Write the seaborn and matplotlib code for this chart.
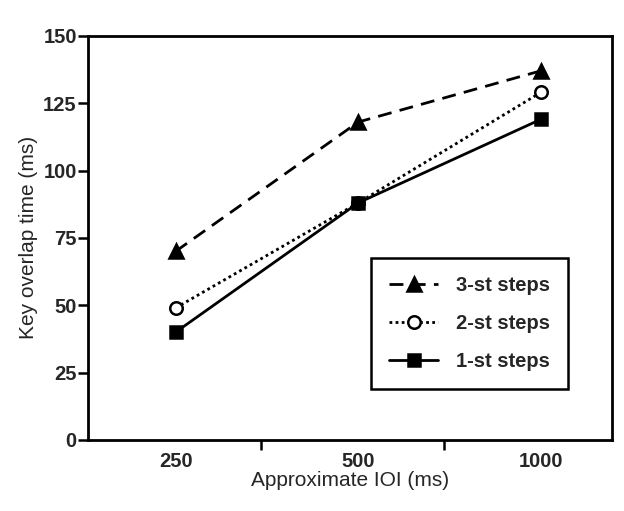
import matplotlib
matplotlib.use("Agg")
import matplotlib.pyplot as plt
import seaborn as sns
import pandas as pd

ioi = ["250", "500", "1000"]
steps3 = [70, 118, 137]
steps2 = [49, 88, 129]
steps1 = [40, 88, 119]
labels = ["3-st steps", "2-st steps", "1-st steps"]

sns.set_theme(style="ticks")
plt.rcParams['font.family'] = ['Liberation Sans', 'DejaVu Sans']

fig, ax = plt.subplots(figsize=(6.24, 5.11), dpi=100)
fig.subplots_adjust(left=0.141, right=0.981, bottom=0.139, top=0.93)

styles = [
    dict(linestyle=(0, (5, 3)), marker='^', markerfacecolor='black', markersize=10),
    dict(linestyle=(0, (1, 1.2)), marker='o', markerfacecolor='white', markersize=9),
    dict(linestyle='-', marker='s', markerfacecolor='black', markersize=9),
]
for lab, vals, st in zip(labels, [steps3, steps2, steps1], styles):
    sns.lineplot(x=ioi, y=vals, ax=ax, color='black', linewidth=2, sort=False,
                 markeredgecolor='black', markeredgewidth=1.8, label=lab, **st)

ax.set_xlim(-0.48, 2.39)
ax.set_ylim(0, 150)
ax.set_yticks([0, 25, 50, 75, 100, 125, 150])
ax.set_xticks([0.47, 1.47], minor=True)
ax.tick_params(axis='x', which='major', length=0, pad=9, labelsize=14.5)
ax.tick_params(axis='x', which='minor', length=7, width=1.8, direction='out', color='black')
ax.tick_params(axis='y', length=7, width=1.8, direction='out', color='black', labelsize=14.5, pad=1)
for t in ax.get_xticklabels() + ax.get_yticklabels():
    t.set_fontweight('bold')
for s in ax.spines.values():
    s.set_linewidth(2)
    s.set_color('black')

ax.set_xlabel("Approximate IOI (ms)", fontsize=15, labelpad=0)
ax.set_ylabel("Key overlap time (ms)", fontsize=15, labelpad=4)

leg = ax.legend(loc='lower right', bbox_to_anchor=(0.935, 0.10), fontsize=14.5,
                frameon=True, fancybox=False, edgecolor='black', borderpad=0.9,
                labelspacing=0.95, handlelength=2.4, handletextpad=0.9, framealpha=1)
leg.get_frame().set_linewidth(1.8)
for t in leg.get_texts():
    t.set_fontweight('bold')

fig.savefig("out.png", dpi=100, facecolor='white')
